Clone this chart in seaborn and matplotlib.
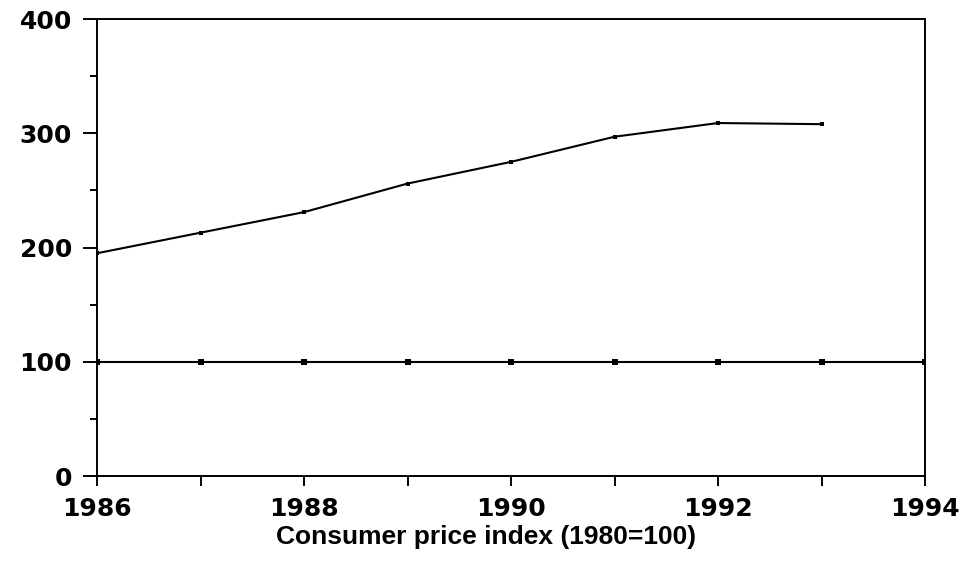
import numpy as np
import pandas as pd
import seaborn as sns
import matplotlib.pyplot as plt
from matplotlib.ticker import MultipleLocator

# data
years = [1986, 1987, 1988, 1989, 1990, 1991, 1992, 1993]
cpi = [195, 213, 231, 256, 275, 297, 309, 308]
base_years = [1986, 1987, 1988, 1989, 1990, 1991, 1992, 1993, 1994]
base_values = [100, 100, 100, 100, 100, 100, 100, 100, 100]
y_ticks = [0, 100, 200, 300, 400]
x_ticks = [1986, 1988, 1990, 1992, 1994]

sns.set_style("ticks")
plt.rcParams['font.family'] = ['DejaVu Sans']

fig = plt.figure(figsize=(9.74, 5.61), dpi=100)
ax = fig.add_axes([0.0996, 0.1515, 0.8501, 0.8145])

cpi_df = pd.DataFrame({"year": years, "value": cpi})
base_df = pd.DataFrame({"year": base_years, "value": base_values})

sns.lineplot(data=cpi_df, x="year", y="value", ax=ax, color="black",
             linewidth=1.5, marker="s", markersize=3.5, markeredgewidth=0)
sns.lineplot(data=base_df, x="year", y="value", ax=ax, color="black",
             linewidth=1.5, marker="s", markersize=4, markeredgewidth=0)

ax.set_xlim(1986, 1994)
ax.set_ylim(0, 400)
ax.set_xticks(x_ticks)
ax.set_yticks(y_ticks)
ax.xaxis.set_minor_locator(MultipleLocator(1))
ax.yaxis.set_minor_locator(MultipleLocator(50))

ax.tick_params(axis="y", which="major", length=10, width=1.4, pad=8,
               labelsize=18, colors="black")
ax.tick_params(axis="y", which="minor", length=5, width=1.4, colors="black")
ax.tick_params(axis="x", which="both", length=7, width=1.4, pad=8,
               labelsize=18, colors="black")
for lbl in ax.get_xticklabels() + ax.get_yticklabels():
    lbl.set_fontweight("bold")

for sp in ax.spines.values():
    sp.set_linewidth(1.4)
    sp.set_color("black")

ax.set_xlabel("")
ax.set_ylabel("")

fig.text(0.499, 0.03, "Consumer price index (1980=100)", ha="center",
         va="baseline", fontsize=19, fontweight="bold", color="black",
         family=["Liberation Sans", "DejaVu Sans"])

fig.savefig("out.png", dpi=100)
